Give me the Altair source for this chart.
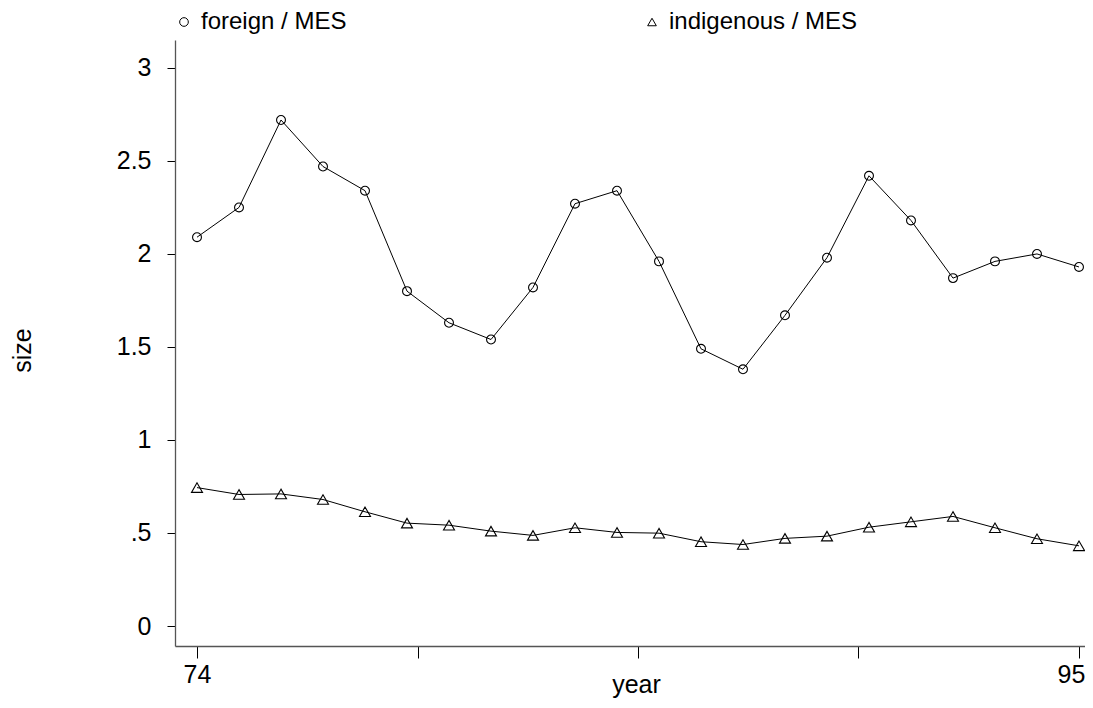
import altair as alt
import pandas as pd

years = list(range(74, 96))
foreign = [2.09, 2.25, 2.72, 2.47, 2.34, 1.80, 1.63, 1.54, 1.82, 2.27, 2.34,
           1.96, 1.49, 1.38, 1.67, 1.98, 2.42, 2.18, 1.87, 1.96, 2.00, 1.93]
indigenous = [0.744, 0.707, 0.710, 0.680, 0.614, 0.553, 0.542, 0.510, 0.487, 0.528, 0.503,
              0.499, 0.453, 0.438, 0.471, 0.483, 0.531, 0.560, 0.589, 0.528, 0.469, 0.431]
series_names = ["foreign / MES", "indigenous / MES"]
x_ticks = [74, 79.25, 84.5, 89.75, 95]
y_ticks = [0, 0.5, 1, 1.5, 2, 2.5, 3]

df = pd.DataFrame({
    "year": years * 2,
    "size": foreign + indigenous,
    "series": [series_names[0]] * len(years) + [series_names[1]] * len(years),
})

FONT = "Liberation Sans"
FS = 25

x = alt.X(
    "year:Q",
    scale=alt.Scale(domain=[73.476, 95.143], nice=False, zero=False),
    axis=alt.Axis(
        values=x_ticks,
        labelExpr="datum.value == 74 || datum.value == 95 ? format(datum.value, 'd') : ''",
        labelOffset={"condition": {"test": "datum.value == 95", "value": -8}, "value": 0},
        tickSize=12, labelPadding=4, labelFontSize=FS, labelColor="black",
        title="year", titleFontSize=FS, titleFontWeight="normal", titleColor="black",
        titleX=461, titleY=46, titleBaseline="alphabetic", titleAlign="center",
        grid=False,
    ),
)
y = alt.Y(
    "size:Q",
    scale=alt.Scale(domain=[-0.1075, 3.15], nice=False, zero=False),
    axis=alt.Axis(
        values=y_ticks,
        labelExpr="datum.value == 0.5 ? '.5' : format(datum.value, '~g')",
        tickSize=8, labelPadding=16, labelFontSize=FS, labelColor="black",
        title="size", titleFontSize=FS, titleFontWeight="normal", titleColor="black",
        titleX=-153, titleY=310, titleAngle=-90, titleBaseline="middle", titleAlign="center",
        grid=False,
    ),
)

lines = alt.Chart(df).mark_line(color="black", strokeWidth=1).encode(
    x=x, y=y, detail="series:N"
)

points = alt.Chart(df).mark_point(filled=False, color="black", strokeWidth=1.1, opacity=1).encode(
    x=x,
    y=y,
    shape=alt.Shape(
        "series:N",
        scale=alt.Scale(domain=series_names, range=["circle", "triangle-up"]),
        legend=alt.Legend(
            orient="none", legendX=-3, legendY=-30, direction="horizontal",
            title=None, labelFontSize=24, labelFont=FONT, labelColor="black",
            labelLimit=400,
            symbolSize=75, symbolStrokeColor="black", symbolStrokeWidth=1,
            symbolFillColor="transparent",
            labelOffset=5, columnPadding=293,
        ),
    ),
    size=alt.condition(
        alt.datum.series == series_names[0], alt.value(79), alt.value(121)
    ),
)

chart = (
    alt.layer(lines, points)
    .properties(
        width=910,
        height=606,
        autosize=alt.AutoSizeParams(type="none"),
        padding={"left": 167, "top": 32, "right": 0, "bottom": 54},
        background="white",
    )
    .configure_view(stroke=None)
    .configure_axis(
        labelFont=FONT, titleFont=FONT,
        domainColor="#555555", domainWidth=1.3,
        tickColor="black", tickWidth=1,
    )
    .configure_legend(labelFont=FONT)
)

chart.save("out.html", embed_options={"renderer": "svg", "actions": False})
